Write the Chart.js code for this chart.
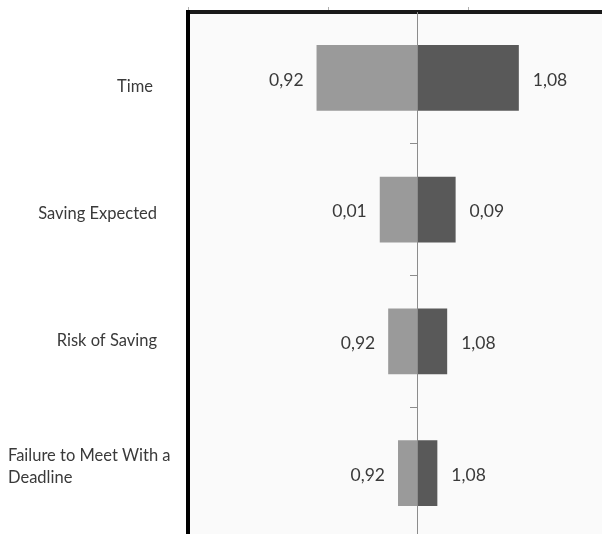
<!DOCTYPE html>
<html>
<head>
<meta charset="utf-8">
<script src="https://cdn.jsdelivr.net/npm/chart.js@4.4.0/dist/chart.umd.min.js"></script>
<style>
  html, body { margin: 0; padding: 0; background: #fff; overflow: hidden; }
</style>
</head>
<body>
<canvas id="myChart" width="602" height="539"></canvas>
<script>
var categories = ['Time', 'Saving Expected', 'Risk of Saving', ['Failure to Meet With a', 'Deadline']];
// bar half-lengths, in units of one top-axis tick step
var lowValues = [-0.72, -0.27, -0.21, -0.14];
var highValues = [0.72, 0.27, 0.21, 0.14];
// the numbers printed next to the bars
var lowLabels = ['0,92', '0,01', '0,92', '0,92'];
var highLabels = ['1,08', '0,09', '1,08', '1,08'];
var axisMin = -1.635;
var axisMax = 1.312;

var plotBackground = {
  id: 'plotBackground',
  beforeDraw: function(chart) {
    var a = chart.chartArea;
    var ctx = chart.ctx;
    ctx.save();
    ctx.fillStyle = '#fafafa';
    ctx.fillRect(a.left, a.top, a.right - a.left, a.bottom - a.top);
    ctx.restore();
  }
};

var valueLabels = {
  id: 'valueLabels',
  afterDatasetsDraw: function(chart) {
    var ctx = chart.ctx;
    ctx.save();
    ctx.font = '17.5px Lato';
    ctx.fillStyle = '#3a3a3a';
    ctx.textBaseline = 'middle';
    [lowLabels, highLabels].forEach(function(texts, d) {
      chart.getDatasetMeta(d).data.forEach(function(bar, i) {
        ctx.textAlign = d === 0 ? 'right' : 'left';
        ctx.fillText(texts[i], d === 0 ? bar.x - 13 : bar.x + 14, bar.y + 2);
      });
    });
    ctx.restore();
  }
};

// Excel places the category names a little tighter than the bars
var categoryLabels = {
  id: 'categoryLabels',
  afterDraw: function(chart) {
    var ctx = chart.ctx;
    var yScale = chart.scales.y;
    ctx.save();
    ctx.font = '16.5px Lato';
    ctx.fillStyle = '#3a3a3a';
    ctx.textBaseline = 'middle';
    categories.forEach(function(cat, i) {
      var y = 12.2 + 0.961 * yScale.getPixelForValue(i);
      if (Array.isArray(cat)) {
        ctx.textAlign = 'left';
        var lh = 22;
        cat.forEach(function(line, j) {
          ctx.fillText(line, 8, y + (j - (cat.length - 1) / 2) * lh);
        });
      } else {
        ctx.textAlign = 'right';
        ctx.fillText(cat, i === 0 ? 153 : 157, y);
      }
    });
    ctx.restore();
  }
};

var ctx = document.getElementById('myChart');
var myChart = new Chart(ctx, {
  type: 'bar',
  data: {
    labels: categories,
    datasets: [{
      label: 'Low',
      data: lowValues,
      backgroundColor: '#9a9a9a',
      borderWidth: 0,
      barPercentage: 0.5,
      categoryPercentage: 1
    }, {
      label: 'High',
      data: highValues,
      backgroundColor: '#595959',
      borderWidth: 0,
      barPercentage: 0.5,
      categoryPercentage: 1
    }]
  },
  options: {
    indexAxis: 'y',
    responsive: false,
    animation: false,
    layout: { padding: 0 },
    plugins: {
      legend: { display: false },
      tooltip: { enabled: false }
    },
    scales: {
      x: {
        position: 'top',
        stacked: true,
        min: axisMin,
        max: axisMax,
        afterBuildTicks: function(s) {
          s.ticks = [{ value: axisMin }, { value: axisMin + 1 }, { value: axisMin + 2 }];
        },
        afterFit: function(s) { s.height = 12; },
        ticks: { display: false },
        grid: { drawOnChartArea: false, tickLength: 5, color: '#b0b0b0' },
        border: { display: true, color: '#1a1a1a', width: 4 }
      },
      y: {
        stacked: true,
        afterFit: function(s) { s.width = 188; },
        ticks: { display: false },
        grid: { drawOnChartArea: false, drawTicks: false, tickLength: 0, color: 'rgba(0,0,0,0)' },
        border: { display: true, color: '#000000', width: 4 }
      },
      y2: {
        type: 'category',
        position: { x: 0 },
        offset: true,
        ticks: { display: false },
        grid: { offset: true, drawOnChartArea: false, tickLength: 7, color: '#8c8c8c' },
        border: { display: true, color: '#8c8c8c', width: 1, z: 1 }
      }
    }
  },
  plugins: [plotBackground, valueLabels, categoryLabels]
});
</script>
</body>
</html>
